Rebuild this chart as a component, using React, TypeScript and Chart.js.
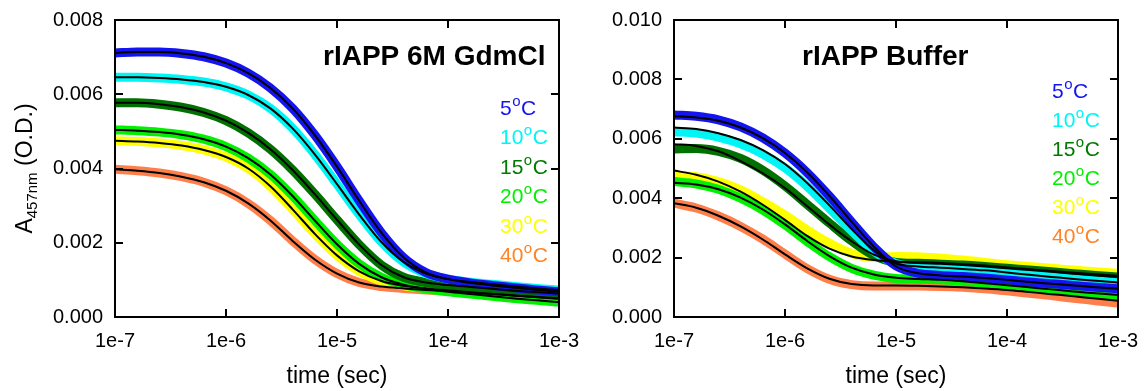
import React, { useEffect, useRef } from 'react';
import { Chart, registerables } from 'chart.js';

Chart.register(...registerables);

const FONT = '"Liberation Sans", Arial, Helvetica, sans-serif';

// time grid (sec), 5 points per decade
const TIMES = [
  1e-7, 1.585e-7, 2.512e-7, 3.981e-7, 6.31e-7,
  1e-6, 1.585e-6, 2.512e-6, 3.981e-6, 6.31e-6,
  1e-5, 1.585e-5, 2.512e-5, 3.981e-5, 6.31e-5,
  1e-4, 1.585e-4, 2.512e-4, 3.981e-4, 6.31e-4,
  1e-3,
];

const X_TICK_VALUES = [1e-7, 1e-6, 1e-5, 1e-4, 1e-3];
const X_TICK_LABELS = ['1e-7', '1e-6', '1e-5', '1e-4', '1e-3'];

// y values are in units of 1e-3 O.D.
const Y_TICKS_LEFT = [0, 2, 4, 6, 8];
const Y_LABELS_LEFT = ['0.000', '0.002', '0.004', '0.006', '0.008'];
const Y_TICKS_RIGHT = [0, 2, 4, 6, 8, 10];
const Y_LABELS_RIGHT = ['0.000', '0.002', '0.004', '0.006', '0.008', '0.010'];

const TEMPS = ['5', '10', '15', '20', '30', '40'];
const POINT_COLORS = ['#1414f0', '#00f5f5', '#007000', '#00f000', '#ffff00', '#ff7f4a'];
const LEGEND_COLORS = ['#1414f0', '#00f5f5', '#007a00', '#00f000', '#ffff00', '#ff8426'];

// ---- rIAPP 6M GdmCl (data; fits follow the data) ----
const GDM_5C = [7.11, 7.14, 7.14, 7.10, 7.01, 6.84, 6.57, 6.17, 5.62, 4.90, 4.05, 3.13, 2.27, 1.60, 1.20, 1.02, 0.92, 0.85, 0.79, 0.73, 0.68];
const GDM_10C = [6.46, 6.46, 6.44, 6.40, 6.33, 6.20, 5.98, 5.62, 5.08, 4.38, 3.58, 2.76, 2.02, 1.48, 1.17, 1.02, 0.94, 0.88, 0.82, 0.77, 0.72];
const GDM_15C = [5.77, 5.77, 5.73, 5.65, 5.51, 5.29, 4.96, 4.52, 3.96, 3.31, 2.62, 1.95, 1.40, 1.07, 0.93, 0.86, 0.81, 0.76, 0.71, 0.67, 0.63];
const GDM_20C = [5.04, 5.02, 4.98, 4.91, 4.79, 4.59, 4.28, 3.84, 3.26, 2.60, 1.96, 1.43, 1.07, 0.87, 0.76, 0.68, 0.62, 0.56, 0.50, 0.45, 0.40];
const GDM_30C = [4.75, 4.73, 4.69, 4.62, 4.50, 4.31, 4.00, 3.52, 2.90, 2.24, 1.66, 1.23, 0.97, 0.84, 0.77, 0.72, 0.67, 0.62, 0.57, 0.53, 0.49];
const GDM_40C = [3.98, 3.94, 3.88, 3.78, 3.63, 3.40, 3.06, 2.60, 2.05, 1.55, 1.17, 0.93, 0.82, 0.77, 0.73, 0.70, 0.66, 0.62, 0.58, 0.54, 0.50];

// ---- rIAPP Buffer (data) ----
const BUF_5C = [6.80, 6.76, 6.64, 6.40, 6.03, 5.52, 4.86, 4.07, 3.20, 2.36, 1.72, 1.47, 1.40, 1.36, 1.31, 1.25, 1.18, 1.12, 1.06, 1.00, 0.95];
const BUF_10C = [6.24, 6.19, 6.06, 5.83, 5.49, 5.02, 4.40, 3.66, 2.90, 2.22, 1.80, 1.70, 1.66, 1.62, 1.57, 1.50, 1.42, 1.35, 1.28, 1.22, 1.15];
const BUF_15C = [5.66, 5.67, 5.58, 5.34, 4.94, 4.41, 3.79, 3.16, 2.56, 2.07, 1.84, 1.81, 1.78, 1.75, 1.70, 1.64, 1.58, 1.52, 1.46, 1.40, 1.35];
const BUF_20C = [4.56, 4.48, 4.30, 4.00, 3.60, 3.10, 2.54, 2.03, 1.64, 1.41, 1.30, 1.28, 1.25, 1.20, 1.14, 1.08, 1.00, 0.92, 0.85, 0.79, 0.74];
const BUF_30C = [4.78, 4.72, 4.56, 4.28, 3.88, 3.43, 2.93, 2.48, 2.14, 2.00, 2.04, 2.03, 1.98, 1.92, 1.84, 1.76, 1.70, 1.64, 1.58, 1.52, 1.47];
const BUF_40C = [3.83, 3.67, 3.40, 3.05, 2.62, 2.12, 1.63, 1.27, 1.09, 1.04, 1.04, 1.04, 1.03, 1.00, 0.95, 0.88, 0.80, 0.72, 0.63, 0.55, 0.47];

// ---- rIAPP Buffer (fits) ----
const BUF_FIT_5C = [6.76, 6.72, 6.61, 6.38, 6.02, 5.52, 4.87, 4.08, 3.21, 2.37, 1.70, 1.47, 1.40, 1.36, 1.31, 1.25, 1.18, 1.12, 1.06, 1.00, 0.95];
const BUF_FIT_10C = [6.38, 6.33, 6.19, 5.96, 5.62, 5.15, 4.51, 3.76, 2.96, 2.25, 1.80, 1.70, 1.66, 1.62, 1.57, 1.50, 1.42, 1.35, 1.28, 1.22, 1.16];
const BUF_FIT_15C = [5.82, 5.76, 5.58, 5.25, 4.84, 4.34, 3.73, 3.11, 2.55, 2.10, 1.87, 1.82, 1.79, 1.75, 1.70, 1.64, 1.58, 1.52, 1.46, 1.40, 1.35];
const BUF_FIT_20C = [4.52, 4.46, 4.30, 4.02, 3.62, 3.12, 2.56, 2.05, 1.66, 1.43, 1.32, 1.28, 1.25, 1.20, 1.14, 1.07, 1.00, 0.93, 0.86, 0.80, 0.74];
const BUF_FIT_30C = [4.93, 4.79, 4.56, 4.22, 3.78, 3.27, 2.73, 2.30, 2.04, 1.92, 1.87, 1.84, 1.82, 1.78, 1.73, 1.67, 1.61, 1.55, 1.49, 1.44, 1.39];
const BUF_FIT_40C = [3.83, 3.68, 3.41, 3.05, 2.61, 2.11, 1.64, 1.29, 1.11, 1.06, 1.06, 1.05, 1.03, 1.00, 0.96, 0.91, 0.84, 0.77, 0.70, 0.62, 0.55];

type Panel = {
  left: number;
  width: number;
  yAxisWidth: number;
  rightPad: number;
  yMax: number;
  yTicks: number[];
  yLabels: string[];
  title: string;
  titleX: number;
  legendX: number;
  legendY0: number;
  legendStep: number;
  showYTitle: boolean;
  data: number[][];
  fits: number[][];
};

const PANELS: Panel[] = [
  {
    left: 0, width: 580, yAxisWidth: 115, rightPad: 21, yMax: 8,
    yTicks: Y_TICKS_LEFT, yLabels: Y_LABELS_LEFT,
    title: 'rIAPP 6M GdmCl', titleX: 323,
    legendX: 500, legendY0: 115, legendStep: 29.4, showYTitle: true,
    data: [GDM_5C, GDM_10C, GDM_15C, GDM_20C, GDM_30C, GDM_40C],
    fits: [GDM_5C, GDM_10C, GDM_15C, GDM_20C, GDM_30C, GDM_40C],
  },
  {
    left: 580, width: 564, yAxisWidth: 94, rightPad: 26, yMax: 10,
    yTicks: Y_TICKS_RIGHT, yLabels: Y_LABELS_RIGHT,
    title: 'rIAPP Buffer', titleX: 222,
    legendX: 472, legendY0: 98, legendStep: 29, showYTitle: false,
    data: [BUF_5C, BUF_10C, BUF_15C, BUF_20C, BUF_30C, BUF_40C],
    fits: [BUF_FIT_5C, BUF_FIT_10C, BUF_FIT_15C, BUF_FIT_20C, BUF_FIT_30C, BUF_FIT_40C],
  },
];

const HEIGHT = 391;
const PLOT_BOTTOM = 317;
const PLOT_TOP = 20;

function toPoints(vals: number[]) {
  return TIMES.map((t, i) => ({ x: t, y: vals[i] }));
}

function clearScalePadding(s: any) {
  s.paddingLeft = 0;
  s.paddingRight = 0;
  s.paddingTop = 0;
  s.paddingBottom = 0;
}

function overlayPlugin(p: Panel) {
  return {
    id: 'overlay',
    afterDatasetsDraw(chart: any) {
      const { ctx, chartArea: a, scales } = chart;
      ctx.save();
      // frame + inward ticks
      ctx.strokeStyle = '#000';
      ctx.lineWidth = 2;
      ctx.strokeRect(a.left, a.top, a.right - a.left, a.bottom - a.top);
      ctx.beginPath();
      X_TICK_VALUES.slice(1, -1).forEach((v) => {
        const px = Math.round(scales.x.getPixelForValue(v));
        ctx.moveTo(px, a.bottom);
        ctx.lineTo(px, a.bottom - 8);
        ctx.moveTo(px, a.top);
        ctx.lineTo(px, a.top + 8);
      });
      p.yTicks.slice(1, -1).forEach((v) => {
        const py = Math.round(scales.y.getPixelForValue(v));
        ctx.moveTo(a.left, py);
        ctx.lineTo(a.left + 8, py);
        ctx.moveTo(a.right, py);
        ctx.lineTo(a.right - 8, py);
      });
      ctx.stroke();

      ctx.textBaseline = 'alphabetic';
      ctx.textAlign = 'left';

      // panel title
      ctx.fillStyle = '#000';
      ctx.font = `bold 28px ${FONT}`;
      ctx.fillText(p.title, p.titleX, 65);

      // temperature legend
      TEMPS.forEach((t, i) => {
        const y = p.legendY0 + i * p.legendStep;
        let x = p.legendX;
        ctx.fillStyle = LEGEND_COLORS[i];
        ctx.font = `21px ${FONT}`;
        ctx.fillText(t, x, y);
        x += ctx.measureText(t).width + 0.5;
        ctx.font = `15px ${FONT}`;
        ctx.fillText('o', x, y - 9);
        x += ctx.measureText('o').width + 0.5;
        ctx.font = `21px ${FONT}`;
        ctx.fillText('C', x, y);
      });

      // x title
      ctx.fillStyle = '#000';
      ctx.font = `23px ${FONT}`;
      ctx.textAlign = 'center';
      ctx.fillText('time (sec)', (a.left + a.right) / 2, 383);

      // y title with subscript
      if (p.showYTitle) {
        const main = `23px ${FONT}`;
        const sub = `15px ${FONT}`;
        ctx.textAlign = 'left';
        ctx.font = main;
        const wA = ctx.measureText('A').width;
        const wRest = ctx.measureText(' (O.D.)').width;
        ctx.font = sub;
        const wSub = ctx.measureText('457nm').width;
        const total = wA + wSub + wRest;
        ctx.translate(32, (a.top + a.bottom) / 2);
        ctx.rotate(-Math.PI / 2);
        let x = -total / 2;
        ctx.font = main;
        ctx.fillText('A', x, 0);
        x += wA;
        ctx.font = sub;
        ctx.fillText('457nm', x, 5);
        x += wSub;
        ctx.font = main;
        ctx.fillText(' (O.D.)', x, 0);
      }
      ctx.restore();
    },
  };
}

function PanelChart({ p }: { p: Panel }) {
  const ref = useRef<HTMLCanvasElement | null>(null);
  useEffect(() => {
    if (!ref.current) return;
    const bands = p.data.map((vals, i) => ({
      label: `${TEMPS[i]} C data`,
      data: toPoints(vals),
      borderColor: POINT_COLORS[i],
      backgroundColor: POINT_COLORS[i],
      borderWidth: 9,
      borderCapStyle: 'round' as const,
      borderJoinStyle: 'round' as const,
      pointRadius: 0,
      cubicInterpolationMode: 'monotone' as const,
      fill: false,
      order: 1,
    }));
    const fits = p.fits.map((vals, i) => ({
      label: `${TEMPS[i]} C fit`,
      data: toPoints(vals),
      borderColor: '#000',
      backgroundColor: '#000',
      borderWidth: 2,
      pointRadius: 0,
      cubicInterpolationMode: 'monotone' as const,
      fill: false,
      order: 0,
    }));
    const chart = new Chart(ref.current, {
      type: 'line',
      data: { datasets: [...bands, ...fits] as any },
      options: {
        animation: false,
        responsive: false,
        maintainAspectRatio: false,
        devicePixelRatio: 1,
        layout: { padding: { left: 0, right: p.rightPad, top: PLOT_TOP, bottom: 0 } },
        plugins: { legend: { display: false }, tooltip: { enabled: false } },
        events: [],
        scales: {
          x: {
            type: 'logarithmic',
            min: 1e-7,
            max: 1e-3,
            grid: { display: false, drawTicks: false },
            border: { display: false },
            afterBuildTicks: (s: any) => {
              s.ticks = X_TICK_VALUES.map((v) => ({ value: v }));
            },
            afterFit: (s: any) => {
              s.height = HEIGHT - PLOT_BOTTOM;
              clearScalePadding(s);
            },
            ticks: {
              autoSkip: false,
              maxRotation: 0,
              padding: 12,
              color: '#000',
              font: { family: FONT, size: 20 },
              callback: (_v: any, i: number) => X_TICK_LABELS[i],
            },
          },
          y: {
            type: 'linear',
            min: 0,
            max: p.yMax,
            grid: { display: false, drawTicks: false },
            border: { display: false },
            afterBuildTicks: (s: any) => {
              s.ticks = p.yTicks.map((v) => ({ value: v }));
            },
            afterFit: (s: any) => {
              s.width = p.yAxisWidth;
              clearScalePadding(s);
            },
            ticks: {
              autoSkip: false,
              padding: 12,
              color: '#000',
              font: { family: FONT, size: 20 },
              callback: (_v: any, i: number) => p.yLabels[i],
            },
          },
        },
      } as any,
      plugins: [overlayPlugin(p)],
    });
    return () => chart.destroy();
  }, [p]);
  return (
    <canvas
      ref={ref}
      width={p.width}
      height={HEIGHT}
      style={{ position: 'absolute', left: p.left, top: 0, width: p.width, height: HEIGHT }}
    />
  );
}

export default function App() {
  return (
    <div style={{ position: 'absolute', left: 0, top: 0, width: 1144, height: HEIGHT, background: '#fff', overflow: 'hidden' }}>
      {PANELS.map((p, i) => (
        <PanelChart key={i} p={p} />
      ))}
    </div>
  );
}
